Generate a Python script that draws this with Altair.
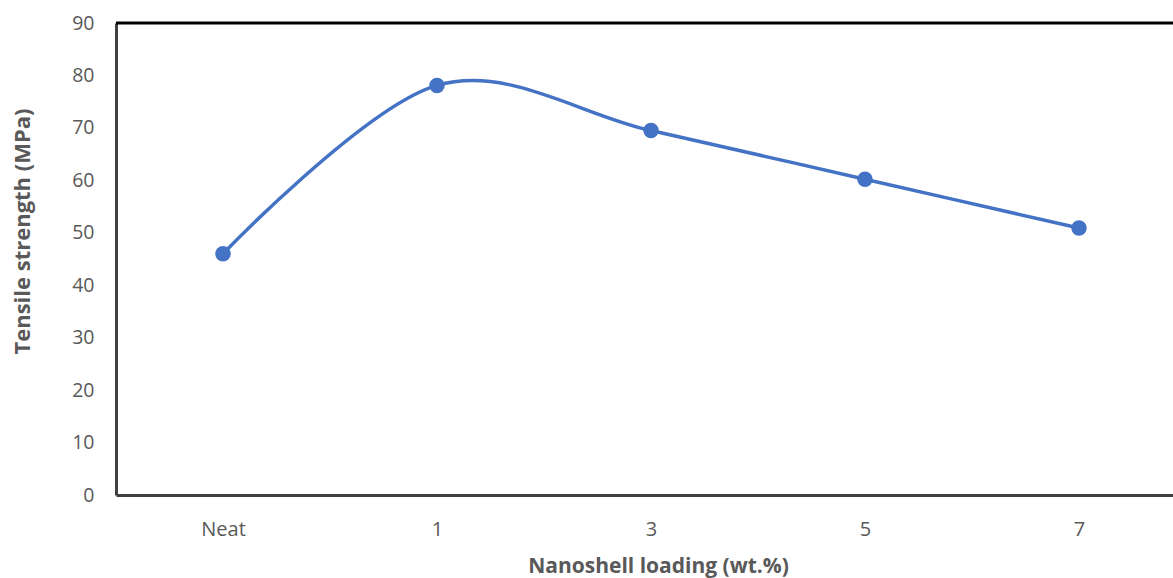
import altair as alt
import pandas as pd

categories = ["Neat", "1", "3", "5", "7"]
tensile = [46.0, 78.1, 69.5, 60.2, 50.9]
y_ticks = [0, 10, 20, 30, 40, 50, 60, 70, 80, 90]

df = pd.DataFrame({
    "idx": list(range(len(categories))),
    "cat": categories,
    "val": tensile,
})

label_arr = "[" + ",".join("'" + c + "'" for c in categories) + "]"

FONT = "Open Sans"
GREY = "#595959"
BLUE = "#4472C4"

x_enc = alt.X(
    "idx:Q",
    scale=alt.Scale(domain=[-0.5, 4.4393], nice=False, zero=False),
    axis=alt.Axis(
        values=list(range(len(categories))),
        labelExpr=label_arr + "[datum.value]",
        ticks=False,
        grid=False,
        domainColor="#404040",
        domainWidth=3,
        labelFontSize=20,
        labelColor=GREY,
        labelFont=FONT,
        labelPadding=24,
        title="Nanoshell loading (wt.%)",
        titleFontSize=21,
        titleFont=FONT,
        titleFontWeight="bold",
        titleColor=GREY,
        titleX=542,
        titleY=77,
        titleAlign="center",
        titleBaseline="alphabetic",
    ),
)
y_enc = alt.Y(
    "val:Q",
    scale=alt.Scale(domain=[0, 90], nice=False),
    axis=alt.Axis(
        values=y_ticks,
        ticks=False,
        grid=False,
        domainColor="#404040",
        domainWidth=3,
        labelFontSize=19.5,
        labelColor=GREY,
        labelFont=FONT,
        labelPadding=22,
        title="Tensile strength (MPa)",
        titleFontSize=22,
        titleFont=FONT,
        titleFontWeight="bold",
        titleColor=GREY,
        titleX=-94,
        titleY=208,
        titleAngle=270,
        titleAlign="center",
        titleBaseline="middle",
    ),
)

base = alt.Chart(df)
line = base.mark_line(interpolate="cardinal", color=BLUE, strokeWidth=3.5).encode(x=x_enc, y=y_enc)
pts = base.mark_point(filled=True, opacity=1, color=BLUE, size=240).encode(x=x_enc, y=y_enc)
top = alt.Chart(pd.DataFrame({"v": [90]})).mark_rule(color="black", strokeWidth=3).encode(
    y=alt.Y("v:Q")
)

chart = alt.layer(top, line, pts).properties(
    width=1057,
    height=472,
    autosize=alt.AutoSizeParams(type="none"),
    padding={"left": 116, "top": 23, "right": 0, "bottom": 83},
    background="white",
).configure_view(stroke=None)

chart.save("out.html", embed_options={"renderer": "svg", "actions": False})
